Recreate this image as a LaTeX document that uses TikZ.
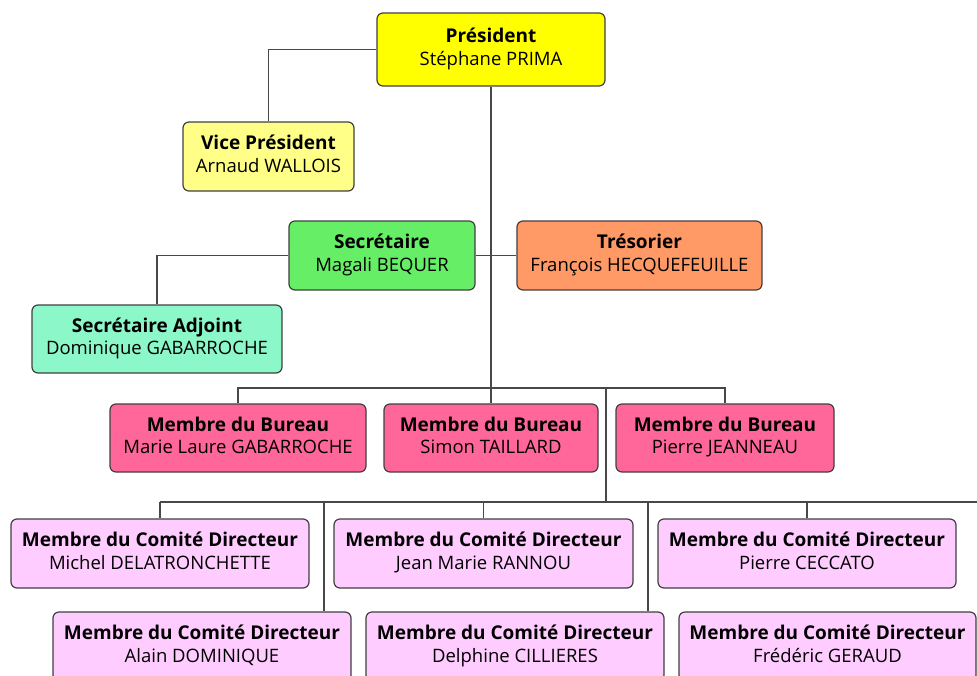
\documentclass[tikz,border=0pt]{standalone}
\usepackage{fontspec}
\setmainfont{Open Sans}
\definecolor{cpres}{HTML}{FFFF00}
\definecolor{cvp}{HTML}{FFFF88}
\definecolor{csec}{HTML}{66EE66}
\definecolor{csa}{HTML}{8CF7C8}
\definecolor{ctres}{HTML}{FF9966}
\definecolor{cbur}{HTML}{FF6699}
\definecolor{ccd}{HTML}{FFCCFF}
\definecolor{cedge}{HTML}{404040}
\definecolor{cline}{HTML}{484848}
\tikzset{
  orgbox/.style={draw=cedge, line width=1.2pt, rounded corners=6pt, align=center,
    inner sep=0pt, font=\fontsize{18.5}{22.5}\selectfont},
  link/.style={draw=cline, line width=1.2pt}
}
\newcommand{\obox}[8]{%
  \node[orgbox, fill=#2, minimum width=#5pt-#3pt, minimum height=#6pt-#4pt]
    (#1) at ({(#3+#5)/2},{(#4+#6)/2}) {\strut{\fontsize{19}{22.5}\selectfont\bfseries #7}\\\strut #8};}
\begin{document}
\begin{tikzpicture}[x=1pt,y=-1pt]
\useasboundingbox[fill=white] (0,0) rectangle (977,675);
\obox{pres}{cpres}{377}{13}{605}{86}{Président}{Stéphane PRIMA}
\obox{vp}{cvp}{183}{122}{354}{191}{Vice Président}{Arnaud WALLOIS}
\obox{sec}{csec}{289}{221}{475}{290}{Secrétaire}{Magali BEQUER}
\obox{tres}{ctres}{517}{221}{762}{290}{Trésorier}{François HECQUEFEUILLE}
\obox{sa}{csa}{32}{305}{282}{373}{Secrétaire Adjoint}{Dominique GABARROCHE}
\obox{b1}{cbur}{110}{404}{366}{472}{Membre du Bureau}{Marie Laure GABARROCHE}
\obox{b2}{cbur}{384}{404}{598}{472}{Membre du Bureau}{Simon TAILLARD}
\obox{b3}{cbur}{616}{404}{834}{472}{Membre du Bureau}{Pierre JEANNEAU}
\obox{cd1}{ccd}{11}{519}{309}{588}{Membre du Comité Directeur}{Michel DELATRONCHETTE}
\obox{cd2}{ccd}{334}{519}{633}{588}{Membre du Comité Directeur}{Jean Marie RANNOU}
\obox{cd3}{ccd}{658}{519}{956}{588}{Membre du Comité Directeur}{Pierre CECCATO}
\obox{cd4}{ccd}{53}{612}{351}{681}{Membre du Comité Directeur}{Alain DOMINIQUE}
\obox{cd5}{ccd}{366}{612}{664}{681}{Membre du Comité Directeur}{Delphine CILLIERES}
\obox{cd6}{ccd}{679}{612}{976}{681}{Membre du Comité Directeur}{Frédéric GERAUD}
% coordinates
\coordinate (bbar) at (491,388);
\coordinate (cdtop) at (606,388);
\coordinate (cdbar) at (606,502);
\coordinate (cdL) at (160,502);
\coordinate (cdR) at (977,502);
\coordinate (cd4k) at (324,502);
\coordinate (cd5k) at (648,502);
\coordinate (cd2k) at (483.5,502);
\coordinate (cd3k) at (807,502);
% connectors
\draw[link] (pres.west) -| (vp.north);
\draw[link] (pres.south) -- (b2.north);
\draw[link] (sec.east) -- (tres.west);
\draw[link] (sec.west) -| (sa.north);
\draw[link] (b1.north) |- (bbar) -| (b3.north);
\draw[link] (cdtop) -- (cdbar);
\draw[link] (cdL) -- (cdR);
\draw[link] (cdL) -- (cd1.north);
\draw[link] (cd2k) -- (cd2.north);
\draw[link] (cd3k) -- (cd3.north);
\draw[link] (cd4k) -- (cd4k |- cd4.north);
\draw[link] (cd5k) -- (cd5k |- cd5.north);
\end{tikzpicture}
\end{document}
